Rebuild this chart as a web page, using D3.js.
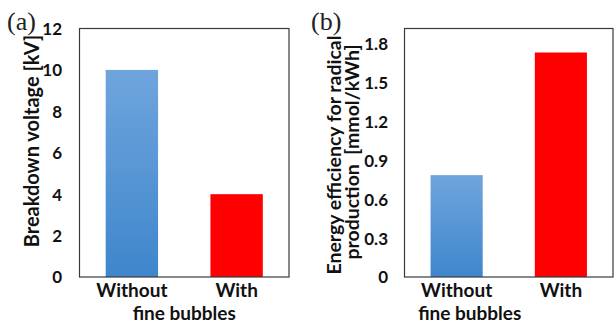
<!DOCTYPE html>
<html><head><meta charset="utf-8">
<script src="https://cdn.jsdelivr.net/npm/d3@7"></script>
<style>
body{margin:0;background:#fff;}
text{font-family:Lato, "Open Sans", sans-serif;font-weight:bold;fill:#111;}
</style></head><body>
<svg id="c" width="614" height="324"></svg>
<script>
const categories = ["Without", "With"];
const groupLabel = "fine bubbles";
const voltageValues = [10, 4];
const voltageTicks = [0, 2, 4, 6, 8, 10, 12];
const efficiencyValues = [0.785, 1.73];
const efficiencyTicks = [0, 0.3, 0.6, 0.9, 1.2, 1.5, 1.8];
const efficiencyTickLabels = ["0", "0.3", "0.6", "0.9", "1.2", "1.5", "1.8"];

const svg = d3.select("#c");
const defs = svg.append("defs");
const grad = defs.append("linearGradient").attr("id","blueGrad").attr("x1",0).attr("y1",0).attr("x2",0).attr("y2",1);
grad.append("stop").attr("offset","0%").attr("stop-color","#6fa5dd");
grad.append("stop").attr("offset","100%").attr("stop-color","#3f86cc");
const colors = ["url(#blueGrad)", "#ff0000"];

function panel(opts){
  const {x0,x1,y0,y1,domainMax,values,ticks,tickLabels,label,titleLines,titleX,titleY,tickX} = opts;
  const g = svg.append("g");
  const x = d3.scaleBand().domain(categories).range([x0,x1]).paddingInner(0.5).paddingOuter(0.25);
  const y = d3.scaleLinear().domain([0,domainMax]).range([y1,y0]);
  g.selectAll("rect.bar").data(values).join("rect").attr("class","bar")
    .attr("x",(d,i)=>x(categories[i])).attr("width",x.bandwidth())
    .attr("y",d=>y(d)).attr("height",d=>y(0)-y(d))
    .attr("fill",(d,i)=>colors[i]);
  g.append("rect").attr("x",x0).attr("y",y0).attr("width",x1-x0).attr("height",y1-y0)
    .attr("fill","none").attr("stroke","#3a3a3a").attr("stroke-width",1.2);
  const ax = d3.axisLeft(y).tickValues(ticks).tickSize(0).tickPadding(0)
    .tickFormat((d,i)=>tickLabels ? tickLabels[i] : d);
  const axg = g.append("g").attr("transform",`translate(${tickX},0)`).call(ax);
  axg.select(".domain").remove();
  axg.selectAll("text").attr("font-size",17).style("font-family","Lato, sans-serif").style("font-weight","bold").attr("fill","#111").attr("dy","0.35em");
  const xa = d3.axisBottom(x).tickSize(0).tickPadding(0);
  const xg = g.append("g").attr("transform",`translate(0,${y1})`).call(xa);
  xg.select(".domain").remove();
  xg.selectAll("text").attr("font-size",19).style("font-family","Lato, sans-serif").style("font-weight","bold").attr("fill","#111").attr("dy",null).attr("y",20);
  g.append("text").attr("x",(x0+x1)/2 - opts.groupShift).attr("y",320).attr("text-anchor","middle").attr("font-size",19).text(groupLabel);
  titleLines.forEach((t,i)=>{
    g.append("text").attr("transform",`translate(${titleX[i]},${titleY[i]}) rotate(-90)`)
      .attr("text-anchor","middle").attr("font-size",opts.titleSize).text(t);
  });
  svg.append("text").attr("x",opts.labelX).attr("y",30).attr("font-size",26)
    .style("font-family","'Liberation Serif', 'DejaVu Serif', serif").style("font-weight","normal").style("fill","#222").text(label);
}

panel({x0:79.5,x1:289,y0:28.5,y1:277,domainMax:12,values:voltageValues,ticks:voltageTicks,tickLabels:null,
  label:"(a)",labelX:7,titleLines:["Breakdown voltage [kV]"],titleX:[39],titleY:[141],tickX:62,groupShift:0,titleSize:20});
panel({x0:404.5,x1:613,y0:28.5,y1:277,domainMax:1.915,values:efficiencyValues,ticks:efficiencyTicks,tickLabels:efficiencyTickLabels,
  label:"(b)",labelX:311,titleLines:["Energy efficiency for radical","production\u00a0 [mmol/kWh]"],titleX:[341,359],titleY:[155,152],tickX:388,groupShift:39,titleSize:19.5});
</script></body></html>
